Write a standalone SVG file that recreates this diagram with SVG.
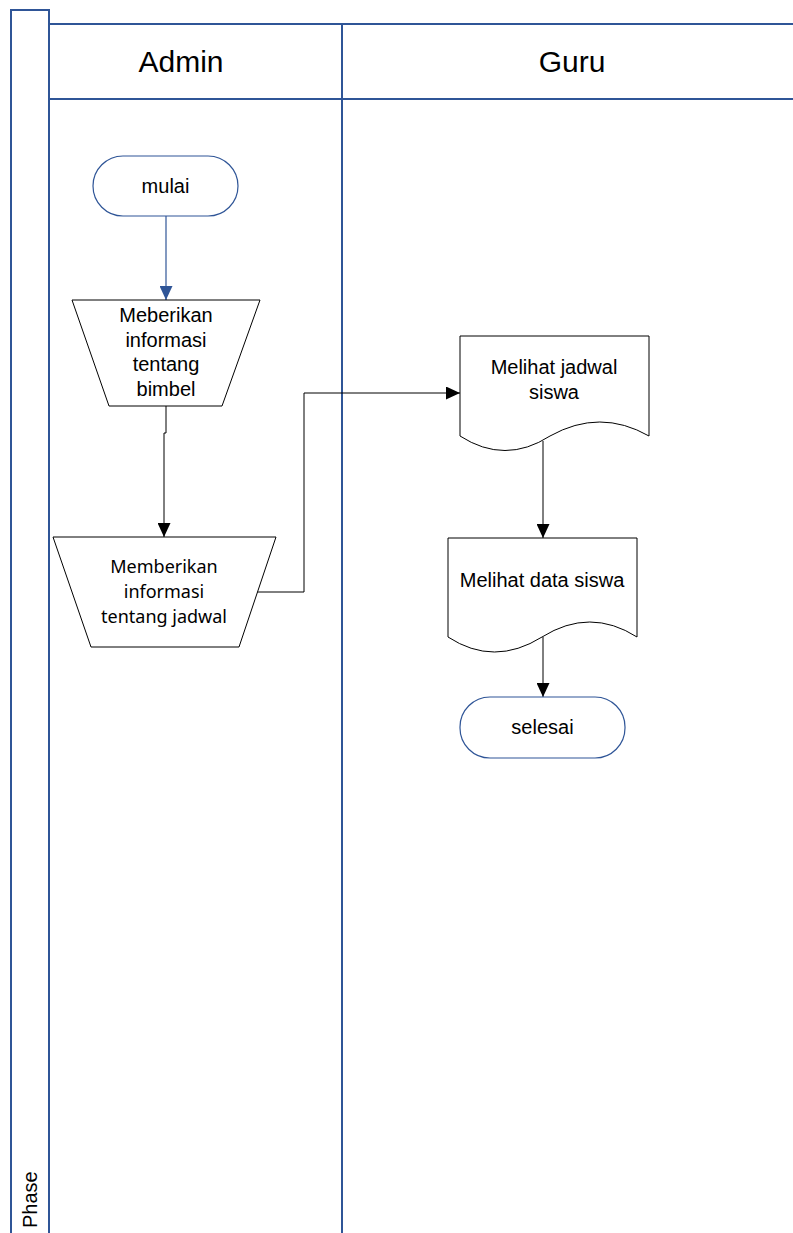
<svg xmlns="http://www.w3.org/2000/svg" width="793" height="1233" viewBox="0 0 793 1233">
<defs>
<style>
.lane{fill:none;stroke:#2F5597;stroke-width:2}
.term{fill:#fff;stroke:#2F5597;stroke-width:1.2}
.shape{fill:#fff;stroke:#000;stroke-width:1}
.t{font-family:"Liberation Sans",Arial,sans-serif;fill:#000;text-anchor:middle}
.c{font-family:"Noto Sans","Open Sans",sans-serif;fill:#000;text-anchor:middle;font-size:18px}
.conn{fill:none;stroke:#000;stroke-width:1}
.connb{fill:none;stroke:#2F5597;stroke-width:1.2}
</style>
<marker id="ah" markerWidth="14" markerHeight="13" refX="14" refY="6.5" orient="auto" markerUnits="userSpaceOnUse" viewBox="0 0 14 13">
<path d="M0,0 L14,6.5 L0,13 Z" fill="#000"/>
</marker>
<marker id="ahb" markerWidth="14" markerHeight="13" refX="14" refY="6.5" orient="auto" markerUnits="userSpaceOnUse" viewBox="0 0 14 13">
<path d="M0,0 L14,6.5 L0,13 Z" fill="#2F5597"/>
</marker>
</defs>
<g id="pool">
<rect x="11" y="10" width="38" height="1240" class="lane"/>
<line x1="49" y1="24" x2="800" y2="24" class="lane"/>
<line x1="49" y1="99" x2="800" y2="99" class="lane"/>
<line x1="342" y1="24" x2="342" y2="1240" class="lane"/>
<text class="t" font-size="30" x="181" y="72">Admin</text>
<text class="t" font-size="30" x="572" y="72">Guru</text>
<text font-family="Liberation Sans,Arial,sans-serif" font-size="20" transform="translate(37,1228) rotate(-90)">Phase</text>
</g>
<g id="connectors">
<line x1="166" y1="216" x2="166" y2="300" class="connb" marker-end="url(#ahb)"/>
<path d="M166,406 V433 H164 V537" class="conn" marker-end="url(#ah)"/>
<path d="M257,592 H304 V393 H460" class="conn" marker-end="url(#ah)"/>
<line x1="543" y1="441" x2="543" y2="538" class="conn" marker-end="url(#ah)"/>
<line x1="543" y1="637" x2="543" y2="697" class="conn" marker-end="url(#ah)"/>
</g>
<g id="mulai">
<rect x="93" y="156" width="145" height="60" rx="30" ry="30" class="term"/>
<text class="t" font-size="20" x="165.5" y="193">mulai</text>
</g>
<g id="info-bimbel">
<path d="M72,300 H260 L222,406 H109 Z" class="shape"/>
<text class="t" font-size="20" x="166" y="322">Meberikan</text>
<text class="t" font-size="20" x="166" y="347">informasi</text>
<text class="t" font-size="20" x="166" y="371">tentang</text>
<text class="t" font-size="20" x="166" y="396">bimbel</text>
</g>
<g id="info-jadwal">
<path d="M53,537 H276 L239,647 H91 Z" class="shape"/>
<text class="c" x="164" y="573">Memberikan</text>
<text class="c" x="164" y="598">informasi</text>
<text class="c" x="164" y="623">tentang jadwal</text>
</g>
<g id="jadwal-siswa">
<path d="M460,336 H649 V436 Q600,408 550,436 Q505,465 460,436 Z" class="shape"/>
<text class="t" font-size="20" x="554" y="374">Melihat jadwal</text>
<text class="t" font-size="20" x="554" y="399">siswa</text>
</g>
<g id="data-siswa">
<path d="M448,538 H637 V637 Q590,607 542,637 Q494,667 448,637 Z" class="shape"/>
<text class="t" font-size="20" x="542" y="587">Melihat data siswa</text>
</g>
<g id="selesai">
<rect x="460" y="697" width="165" height="61" rx="30" ry="30" class="term"/>
<text class="t" font-size="20" x="542.5" y="734">selesai</text>
</g>
</svg>
